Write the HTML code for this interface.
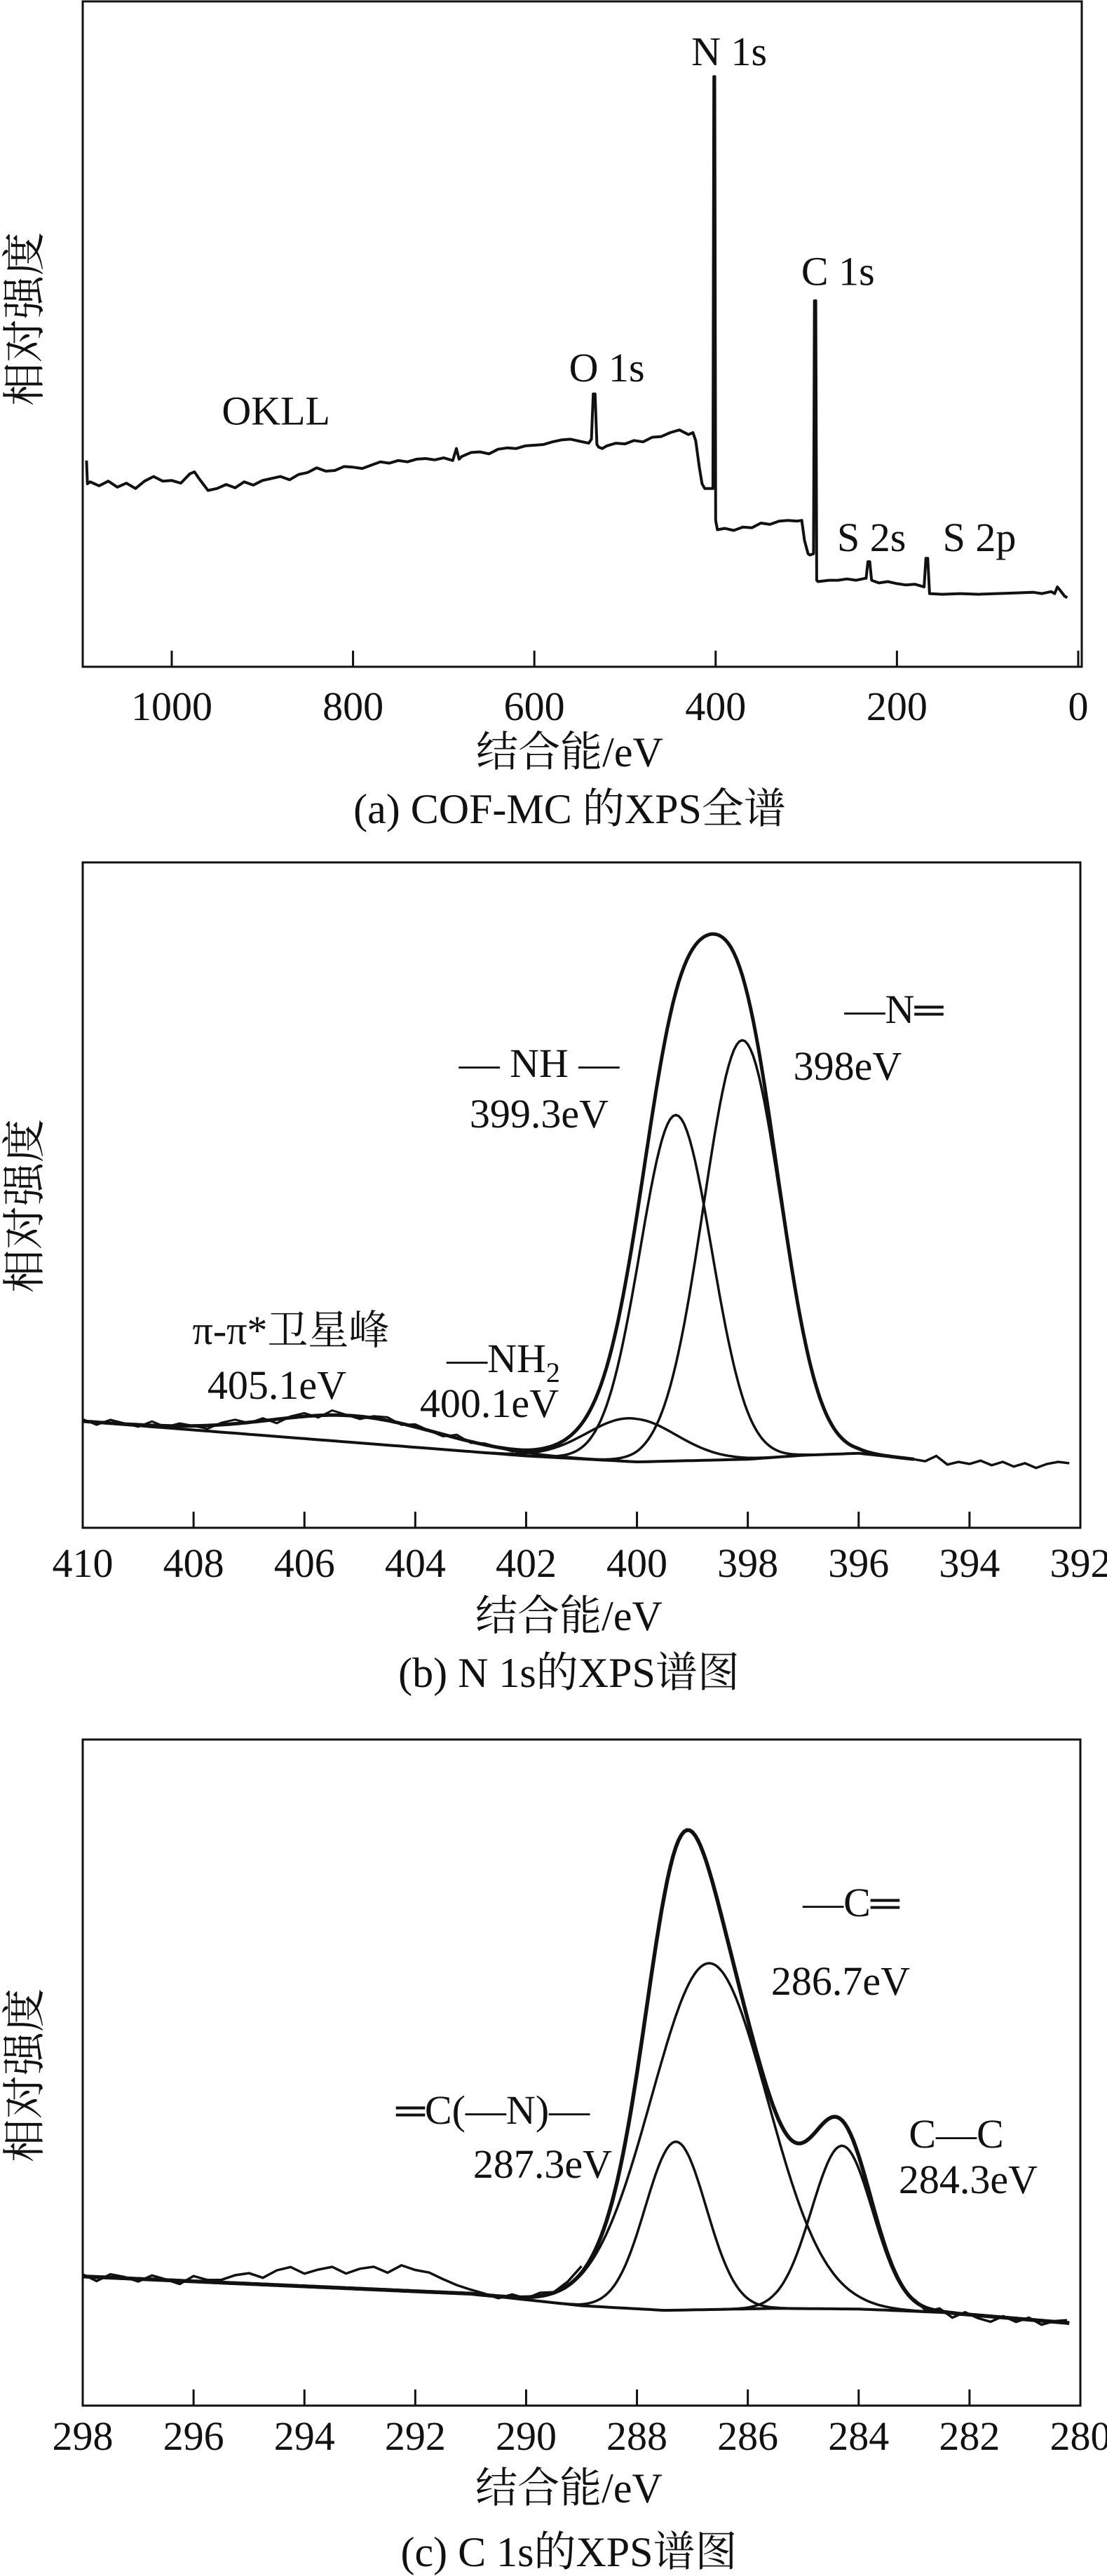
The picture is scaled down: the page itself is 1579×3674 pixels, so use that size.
<!DOCTYPE html>
<html><head><meta charset="utf-8">
<style>
html,body{margin:0;padding:0;background:#fff;}
svg{display:block;}
svg text{font-family:"Liberation Serif","Noto Serif CJK SC",serif !important;}
</style></head>
<body>
<svg id="fig" width="1579" height="3674" viewBox="0 0 1579 3674" xmlns="http://www.w3.org/2000/svg"></svg>
<script>
// ---------- Panel (a) survey data ----------
const surveyEnergy = [1094,1093,1090,1080,1070,1060,1050,1040,1030,1020,1010,1000,990,980,975,970,960,950,940,930,920,910,900,890,880,870,860,850,840,830,820,810,800,790,780,770,760,750,740,730,720,710,700,690,686,683,680,670,660,650,640,630,620,610,600,590,580,570,560,550,540,537,535,533,531,529,525,520,510,500,490,480,470,460,450,440,430,425,422,418,415,412,403,402,401,400,398,390,380,370,360,350,340,330,320,310,305,302,298,296,292,291,289.5,288.5,287,275,265,255,245,235,234,232,230,228,220,210,200,190,180,170,168,166,164,150,130,110,90,70,50,40,30,26,23,20,15,12];
const surveyIntensity = [31,27.5,27.8,27.2,27.9,27.0,27.6,26.8,27.9,28.6,27.9,28.0,27.6,29.0,29.3,28.3,26.5,26.8,27.4,26.9,27.8,27.3,28.0,28.3,28.6,28.1,28.9,29.2,29.9,29.4,29.5,30.1,30.0,29.8,30.3,30.8,30.6,31.0,30.8,31.2,31.3,31.1,31.4,31.0,32.8,31.2,31.6,32.2,32.3,32.0,32.7,32.9,32.8,33.2,33.3,33.4,33.8,34.1,34.2,33.9,33.6,34.2,41.0,41.0,33.4,33.0,32.8,33.2,33.6,33.5,34.0,33.8,34.5,34.6,35.2,35.6,34.9,35.2,34.0,30.0,27.5,26.8,26.8,88.7,88.7,22.0,20.6,20.8,20.5,21.0,20.9,21.6,21.4,21.9,22.0,21.9,22.0,19.0,17.0,16.8,17.0,55.0,55.0,13.0,12.8,13.0,13.0,13.2,13.0,13.3,13.3,15.8,15.8,13.0,12.6,12.8,12.5,12.3,12.4,12.0,16.3,16.3,11.0,10.9,11.0,10.9,11.0,11.1,11.2,11.0,11.3,11.0,12.0,11.5,10.6,10.4];
const surveyTicks = [1000,800,600,400,200,0];
const surveyLabels = [
  {t:"N 1s",e:385,v:92.5},{t:"C 1s",e:265,v:59.5},{t:"O 1s",e:520,v:45},
  {t:"OKLL",e:885,v:38.5},{t:"S 2s",e:228,v:19.5},{t:"S 2p",e:109,v:19.5}
];

// ---------- Panel (b) N 1s ----------
const nTicks = [410,408,406,404,402,400,398,396,394,392];
const nBaseE = [410,402,400,398,397,396,395];
const nBaseV = [16.0,10.8,9.9,10.3,10.9,11.2,10.3];
const nCenters = [405.1,400.1,399.3,398.1];
const nAmps = [4.0,6.5,52,63];
const nSigmas = [1.5,0.8,0.65,0.7];
const nNoise = [0.3,-0.4,0.5,0.1,-0.3,0.6,-0.2,0.4,0.0,-0.5,0.3,0.6,-0.1,0.4,-0.6,0.2,0.5,-0.3,0.7,0.1,-0.4,0.3,0.5,-0.2,0.4,0.0,-0.3,0.5,-0.2,0.2,0.0,-0.3,0.1];
const nTailE = [395,394.8,394.6,394.4,394.2,394,393.8,393.6,393.4,393.2,393,392.8,392.6,392.4,392.2];
const nTailV = [10.3,10.0,10.8,9.5,9.9,9.6,10.1,9.4,9.9,9.2,9.7,9.0,9.6,9.9,9.7];

// ---------- Panel (c) C 1s ----------
const cTicks = [298,296,294,292,290,288,286,284,282,280];
const cBaseE = [298,291,289,287.5,285.5,284,282.5,280.2];
const cBaseV = [19.4,16.8,15.0,14.3,14.6,14.5,14.0,12.4];
const cCenters = [287.3,286.7,284.3];
const cAmps = [25.3,52,24.5];
const cSigmas = [0.55,1.05,0.55];
const cNoise = [0.3,-0.6,0.5,0.2,-0.4,0.6,0.1,-0.5,0.8,0.3,0.4,1.2,1.6,1.0,2.2,2.8,1.9,2.6,3.1,2.2,3.0,3.4,2.6,3.8,3.2,2.9,2.0,1.2,0.6,0.2,-0.3,0.4,-0.2,0.5,0.1,0.6,1.0];
const cTailNoise = [0.2,-0.5,0.4,-0.7,0.3,-0.4,-0.8,0.2,-0.5,0.3,-0.6,0.1,0.4];

const NS = "http://www.w3.org/2000/svg";
const svg = document.getElementById('fig');
function mk(tag, attrs, parent){
  const el = document.createElementNS(NS, tag);
  for (const k in attrs) el.setAttribute(k, attrs[k]);
  (parent||svg).appendChild(el);
  return el;
}
function makePanel(L,R,T,B,x0,x1){
  return {L,R,T,B,
    sx:e=>L+(x0-e)/(x0-x1)*(R-L),
    sy:v=>B-v/100*(B-T)};
}
function interp(xs,ys,x){
  for(let i=0;i<xs.length-1;i++){
    const a=xs[i],b=xs[i+1];
    if((x<=a&&x>=b)||(x>=a&&x<=b)){const t=(x-a)/(b-a);return ys[i]+t*(ys[i+1]-ys[i]);}
  }
  return x>xs[0]?ys[0]:ys[ys.length-1];
}
function gauss(x,c,a,s){return a*Math.exp(-(x-c)*(x-c)/(2*s*s));}
function pathFrom(pts,P){
  return pts.map((p,i)=>(i?'L':'M')+P.sx(p[0]).toFixed(1)+' '+P.sy(p[1]).toFixed(1)).join(' ');
}
function drawFrame(P,ticks,name,caption,tickY,titleY,capY,ylabY){
  const g = mk('g',{fill:'#111'});
  
  
  const fr = mk('rect',{x:P.L,y:P.T,width:P.R-P.L,height:P.B-P.T,fill:'none',stroke:'#111','stroke-width':3},g);
  
  
  ticks.forEach(t=>{
    const x=P.sx(t);
    const tl = mk('line',{x1:x,y1:P.B,x2:x,y2:P.B-23,stroke:'#111','stroke-width':3},g);
    
    
    const tx = mk('text',{x:x,y:tickY+20,'font-size':58,'text-anchor':'middle'},g);
    tx.textContent = t;
    
    
  });
  const xt = mk('text',{x:(P.L+P.R)/2-18,y:titleY+20,'font-size':60,'text-anchor':'middle'},g);
  xt.textContent = '结合能/eV';
  
  
  const yt = mk('text',{x:0,y:0,'font-size':62,'text-anchor':'middle',transform:'translate(56,'+ylabY+') rotate(-90)'},g);
  yt.textContent = '相对强度';
  
  
  const cp = mk('text',{x:(P.L+P.R)/2-18,y:capY+20,'font-size':60,'text-anchor':'middle'},g);
  cp.textContent = caption;
  
  
}
function label(txt,x,y,name,size){
  const t = mk('text',{x:x,y:y+20,'font-size':size||58,'text-anchor':'middle',fill:'#111'});
  t.innerHTML = txt;
  
  
  return t;
}

// ===== Panel a =====
const PA = makePanel(118,1543,2,951,1098.2,-3.9);
drawFrame(PA,surveyTicks,'survey','(a) COF-MC 的XPS全谱',1007,1073,1154,455);
const surveyPts = surveyEnergy.map((e,i)=>[e,surveyIntensity[i]]);
const sp = mk('path',{d:pathFrom(surveyPts,PA),fill:'none',stroke:'#111','stroke-width':4,'stroke-linejoin':'round'});


surveyLabels.forEach(l=>{
  label(l.t, PA.sx(l.e), PA.sy(l.v), 'peak-label-'+l.t.replace(/\s/g,'').toLowerCase(), 58);
});

// ===== Panel b =====
const PB = makePanel(118,1541,1230,2179,410,392);
drawFrame(PB,nTicks,'n1s','(b) N 1s的XPS谱图',2229,2305,2386,1720);
function nBase(e){return interp(nBaseE,nBaseV,e);}
const nEnvPts=[];
for(let e=410;e>=395-1e-9;e-=0.05){
  let v=nBase(e); for(let k=0;k<nCenters.length;k++) v+=gauss(e,nCenters[k],nAmps[k],nSigmas[k]);
  nEnvPts.push([e,v]);
}
const nbl=[]; for(let e=410;e>=395-1e-9;e-=0.1) nbl.push([e,nBase(e)]);
const nb = mk('path',{d:pathFrom(nbl,PB),fill:'none',stroke:'#111','stroke-width':4});


nCenters.forEach((c,k)=>{
  const pts=[];
  const lo=Math.min(410,c+4*nSigmas[k]), hi=Math.max(395,c-4*nSigmas[k]);
  for(let e=lo;e>=hi-1e-9;e-=0.05) pts.push([e,nBase(e)+gauss(e,c,nAmps[k],nSigmas[k])]);
  const p = mk('path',{d:pathFrom(pts,PB),fill:'none',stroke:'#111','stroke-width':3.5});
  
  
});
const ne = mk('path',{d:pathFrom(nEnvPts,PB),fill:'none',stroke:'#111','stroke-width':5});


const nRaw=[];
nNoise.forEach((d,i)=>{const e=410-i*0.25; let v=nBase(e); for(let k=0;k<nCenters.length;k++) v+=gauss(e,nCenters[k],nAmps[k],nSigmas[k]); nRaw.push([e,v+d]);});
const nr = mk('path',{d:pathFrom(nRaw,PB),fill:'none',stroke:'#111','stroke-width':3});


const nt = mk('path',{d:pathFrom(nTailE.map((e,i)=>[e,nTailV[i]]),PB),fill:'none',stroke:'#111','stroke-width':3.5});


label('—N═',1275,1439,'label-imine-n');
label('398eV',1209,1520,'label-398ev');
label('— NH —',769,1516,'label-nh');
label('399.3eV',769,1588,'label-399-3ev');
label('π-π*卫星峰',415,1897,'label-satellite');
label('405.1eV',395,1975,'label-405-1ev');
label('—NH<tspan font-size="40" dy="14">2</tspan>',718,1937,'label-nh2');
label('400.1eV',698,2001,'label-400-1ev');

// ===== Panel c =====
const PC = makePanel(118,1541,2481,3431,298,280);
drawFrame(PC,cTicks,'c1s','(c) C 1s的XPS谱图',3474,3549,3640,2960);
function cBase(e){return interp(cBaseE,cBaseV,e);}
function cEnv(e){let v=cBase(e); for(let k=0;k<cCenters.length;k++) v+=gauss(e,cCenters[k],cAmps[k],cSigmas[k]); return v;}
const cbl=[]; for(let e=298;e>=280.2-1e-9;e-=0.1) cbl.push([e,cBase(e)]);
const cb = mk('path',{d:pathFrom(cbl,PC),fill:'none',stroke:'#111','stroke-width':4});


cCenters.forEach((c,k)=>{
  const pts=[];
  for(let e=c+4.2*cSigmas[k];e>=c-4.2*cSigmas[k];e-=0.05) pts.push([e,cBase(e)+gauss(e,c,cAmps[k],cSigmas[k])]);
  const p = mk('path',{d:pathFrom(pts,PC),fill:'none',stroke:'#111','stroke-width':3.5});
  
  
});
const cEnvPts=[]; for(let e=298;e>=280.2-1e-9;e-=0.05) cEnvPts.push([e,cEnv(e)]);
const ce = mk('path',{d:pathFrom(cEnvPts,PC),fill:'none',stroke:'#111','stroke-width':5.5});


const cRaw = cNoise.map((d,i)=>{const e=298-i*0.25; return [e,cEnv(e)+d];});
const cr = mk('path',{d:pathFrom(cRaw,PC),fill:'none',stroke:'#111','stroke-width':3.5});


const cRaw2 = cTailNoise.map((d,i)=>{const e=283-i*0.23; return [e,cEnv(e)+d];});
const cr2 = mk('path',{d:pathFrom(cRaw2,PC),fill:'none',stroke:'#111','stroke-width':3.5});


label('—C═',1214,2713,'label-c-double');
label('286.7eV',1199,2825,'label-286-7ev');
label('═C(—N)—',703,3009,'label-c-n');
label('287.3eV',774,3086,'label-287-3ev');
label('C—C',1364,3043,'label-c-c');
label('284.3eV',1381,3108,'label-284-3ev');
</script>
</body></html>
